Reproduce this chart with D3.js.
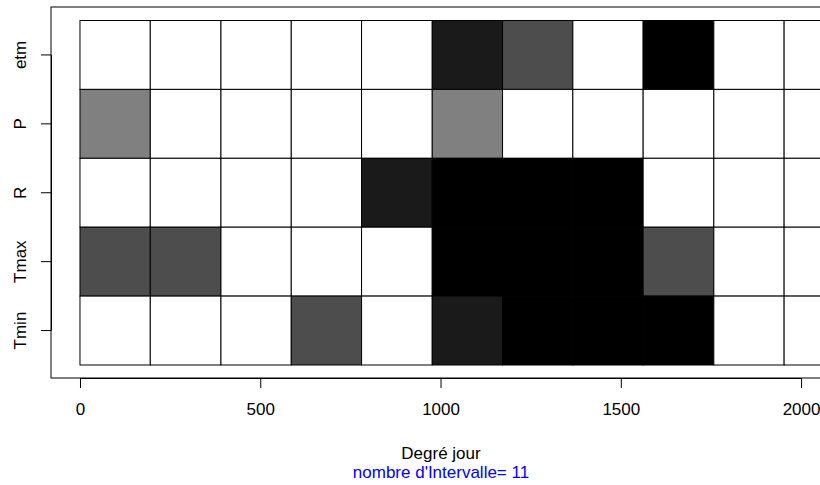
<!DOCTYPE html>
<html>
<head>
<meta charset="utf-8">
<script src="https://cdn.jsdelivr.net/npm/d3@7"></script>
<style>
  body { margin: 0; background: #fff; }
  svg text { font-family: "Liberation Sans", Arial, Helvetica, sans-serif; }
</style>
</head>
<body>
<div class="chart"></div>
<script>
// variables, top to bottom
const variables = ["etm", "P", "R", "Tmax", "Tmin"]
// interval breaks in degree-days (11 intervals)
const breaks = [0, 195, 391, 586, 781, 977, 1172, 1367, 1562, 1758, 1953, 2148]
const xTicks = [0, 500, 1000, 1500, 2000]
// grey level of each cell (0 = white ... 4 = black)
const etm  = [0, 0, 0, 0, 0, 3, 2, 0, 4, 0, 0]
const P    = [1, 0, 0, 0, 0, 1, 0, 0, 0, 0, 0]
const R    = [0, 0, 0, 0, 3, 4, 4, 4, 0, 0, 0]
const Tmax = [2, 2, 0, 0, 0, 4, 4, 4, 2, 0, 0]
const Tmin = [0, 0, 0, 2, 0, 3, 4, 4, 4, 0, 0]
const levels = [0, 1, 2, 3, 4]
const greys = ["#ffffff", "#808080", "#4d4d4d", "#1a1a1a", "#000000"]
const xLabel = "Degré jour"
const subLabel = "nombre d'Intervalle= " + (breaks.length - 1)

const width = 820
const height = 485
const fontSize = 17
const box = { left: 51, right: 831, top: 7, bottom: 378 }
const xlim = [-80.4, 2083]

const rows = { etm, P, R, Tmax, Tmin }
const cells = []
variables.forEach(v => {
    rows[v].forEach((lvl, i) => {
        cells.push({ v, x0: breaks[i], x1: breaks[i + 1], lvl })
    })
})

const xScale = d3.scaleLinear()
    .domain(xlim)
    .range([box.left, box.right])

const yScale = d3.scaleBand()
    .domain(variables)
    .range([20.5, 365])

const fillScale = d3.scaleOrdinal()
    .domain(levels)
    .range(greys)

let svg = d3.select(".chart")
    .append("svg")
    .attr("width", width)
    .attr("height", height)

// cells
svg.append("g")
    .selectAll("rect")
    .data(cells)
    .join("rect")
    .attr("x", d => xScale(d.x0))
    .attr("y", d => yScale(d.v))
    .attr("width", d => xScale(d.x1) - xScale(d.x0))
    .attr("height", yScale.bandwidth())
    .attr("fill", d => fillScale(d.lvl))
    .attr("stroke", "#000")
    .attr("stroke-width", 1)

// plot box
svg.append("rect")
    .attr("x", box.left)
    .attr("y", box.top)
    .attr("width", box.right - box.left)
    .attr("height", box.bottom - box.top)
    .attr("fill", "none")
    .attr("stroke", "#000")
    .attr("stroke-width", 1)

const xAxis = d3.axisBottom(xScale)
    .tickValues(xTicks)
    .tickFormat(d3.format("d"))
    .tickSize(10)
    .tickPadding(15)
    .tickSizeOuter(0)

svg.append("g")
    .attr("transform", `translate(0,${box.bottom})`)
    .call(xAxis)
    .call(g => g.select(".domain")
        .attr("d", `M${xScale(xTicks[0])},0.5H${xScale(xTicks[xTicks.length - 1])}`))
    .call(g => g.selectAll("text")
        .attr("fill", "#000")
        .attr("font-size", fontSize))

const yAxis = d3.axisLeft(yScale)
    .tickSize(10)
    .tickPadding(0)
    .tickSizeOuter(0)

svg.append("g")
    .attr("transform", `translate(${box.left},0)`)
    .call(yAxis)
    .call(g => g.select(".domain")
        .attr("d", `M0.5,${yScale(variables[0]) + yScale.bandwidth() / 2}V${yScale(variables[variables.length - 1]) + yScale.bandwidth() / 2}`))
    .call(g => g.selectAll("text")
        .attr("fill", "#000")
        .attr("font-size", fontSize)
        .attr("text-anchor", "middle")
        .attr("dy", 0)
        .attr("x", 0)
        .attr("transform", "translate(-25,0) rotate(-90)"))

const midX = (box.left + box.right) / 2

svg.append("text")
    .attr("x", midX)
    .attr("y", 459)
    .attr("text-anchor", "middle")
    .attr("font-size", fontSize)
    .attr("fill", "#000")
    .text(xLabel)

svg.append("text")
    .attr("x", midX)
    .attr("y", 478)
    .attr("text-anchor", "middle")
    .attr("font-size", fontSize)
    .attr("fill", "#0000ff")
    .text(subLabel)
</script>
</body>
</html>
